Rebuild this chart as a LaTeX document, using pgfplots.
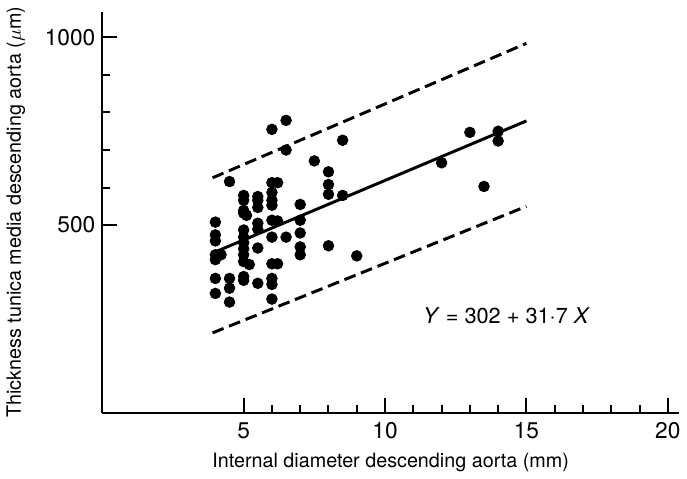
\documentclass[border=0pt]{standalone}
\usepackage{pgfplots}
\pgfplotsset{compat=1.18}
\usepackage{fontspec}
\setmainfont{TeX Gyre Heros}

\begin{document}
\begin{tikzpicture}
\begin{axis}[
  scale only axis,
  width=292pt, height=203pt,
  xmin=0, xmax=20.4, ymin=0, ymax=1068,
  axis lines*=left,
  axis line style={line width=1.2pt,-},
  xtick={5,10,15,20}, ytick={500,1000},
  minor x tick num=4, minor y tick num=4,
  tick align=inside,
  major tick length=7.5pt, minor tick length=4pt,
  every tick/.style={black,line width=1pt},
  tick label style={font=\fontsize{11.5}{13}\selectfont},
  xticklabel style={yshift=-1.5pt},
  label style={font=\fontsize{10}{12}\selectfont},
  ylabel shift=3pt,
  xlabel shift=0pt,
  /pgf/number format/assume math mode=true,
  /pgf/number format/1000 sep={},
  xlabel={Internal diameter descending aorta (mm)},
  ylabel={Thickness tunica media descending aorta ($\mu$m)},
  clip=false,
]
% observations
\addplot[only marks,mark=*,mark size=2.7pt,black] coordinates {
(4,508) (4,474) (4,458) (4,421) (4,408) (4,358) (4,318)
(4.2,421)
(4.5,616) (4.5,358) (4.5,332) (4.5,295)
(5,579) (5,566) (5,539) (5,532) (5,487) (5,468) (5,453) (5,437) (5,421) (5,403) (5,363) (5,353)
(5.2,395) (5.1,526)
(5.5,576) (5.5,566) (5.5,547) (5.5,505) (5.5,489) (5.5,439) (5.5,345)
(6,755) (6,613) (6,587) (6,566) (6,553) (6,513) (6,468) (6,397) (6,358) (6,342) (6,303)
(6.2,613) (6.2,511) (6.2,397)
(6.5,779) (6.5,700) (6.5,468)
(7,555) (7,513) (7,479) (7,442) (7,421)
(7.5,671)
(8,642) (8,608) (8,582) (8,445)
(8.5,726) (8.5,579)
(9,418)
(12,666)
(13,747)
(13.5,603)
(14,750) (14,724)
};
% regression line Y = 302 + 31.7 X
\addplot[black,line width=1.5pt] coordinates {(4,428.8) (15,777.5)};
% limits
\addplot[black,line width=1.5pt,dash pattern=on 6pt off 3pt] coordinates {(3.9,626) (15,984)};
\addplot[black,line width=1.5pt,dash pattern=on 6pt off 3pt] coordinates {(3.9,213) (15,550)};
\node[font=\fontsize{11}{13}\selectfont] at (axis cs:14.3,258) {\textit{Y} = 302 + 31·7 \textit{X}};
\end{axis}
\path (current axis.north) ++(0,6pt);
\end{tikzpicture}
\end{document}
